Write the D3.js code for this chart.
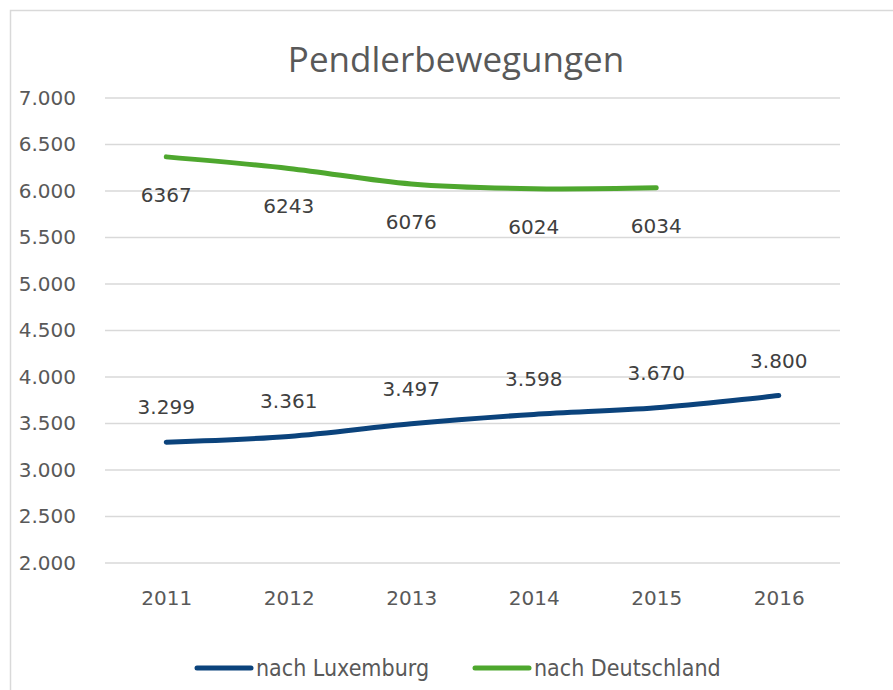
<!DOCTYPE html>
<html>
  <head>
    <meta charset="UTF-8">
    <title>Pendlerbewegungen</title>
    <style>
      body { margin: 0; background: #fff; }
      svg text { font-family: "DejaVu Sans", sans-serif; fill: #595959; }
      .axis path, .axis line { display: none; }
      .grid line { stroke: #d9d9d9; stroke-width: 1.5px; }
    </style>
    <script src="https://d3js.org/d3.v7.min.js"></script>
  </head>
  <body>
    <div class="graph1"></div>
    <script>
      var years = ["2011", "2012", "2013", "2014", "2015", "2016"];
      var luxemburg = [3299, 3361, 3497, 3598, 3670, 3800];
      var deutschland = [6367, 6243, 6076, 6024, 6034, null];
      var yTicks = [2000, 2500, 3000, 3500, 4000, 4500, 5000, 5500, 6000, 6500, 7000];
      var seriesNames = ["nach Luxemburg", "nach Deutschland"];
      var colors = ["#0b437c", "#4ea72e"];

      var width = 893, height = 690;
      var margin = {top: 98, right: 53, bottom: 127, left: 105};

      var svg = d3.select(".graph1").append("svg")
        .attr("width", width)
        .attr("height", height);

      // outer chart frame (runs past the window on right/bottom)
      svg.append("rect")
        .attr("x", 10.5).attr("y", 10.5)
        .attr("width", 900).attr("height", 700)
        .attr("fill", "none").attr("stroke", "#d9d9d9").attr("stroke-width", 1.5);

      var g = svg.append("g")
        .attr("transform", "translate(" + margin.left + "," + margin.top + ")");
      var w = width - margin.left - margin.right,
          h = height - margin.top - margin.bottom;

      var xScale = d3.scalePoint().domain(years).range([0, w]).padding(0.5);
      var yScale = d3.scaleLinear().domain([2000, 7000]).range([h, 0]);

      var fmt = d3.formatLocale({decimal: ",", thousands: ".", grouping: [3], currency: ["", "€"]}).format(",.0f");

      // gridlines
      g.append("g").attr("class", "grid")
        .selectAll("line").data(yTicks).enter().append("line")
          .attr("x1", 0).attr("x2", w)
          .attr("y1", function(d) { return yScale(d); })
          .attr("y2", function(d) { return yScale(d); });

      // y-axis
      g.append("g").attr("class", "axis")
        .call(d3.axisLeft(yScale).tickValues(yTicks).tickFormat(fmt).tickSize(0).tickPadding(29))
        .selectAll("text").style("font-size", "20px").style("fill", "#595959");

      // x-axis
      g.append("g").attr("class", "axis")
        .attr("transform", "translate(0," + h + ")")
        .call(d3.axisBottom(xScale).tickSize(0).tickPadding(28))
        .selectAll("text").style("font-size", "20px").style("fill", "#595959");

      var line = d3.line()
        .defined(function(d) { return d.v != null; })
        .x(function(d) { return xScale(d.year); })
        .y(function(d) { return yScale(d.v); })
        .curve(d3.curveCatmullRom.alpha(0.5));

      var series = [luxemburg, deutschland].map(function(vals) {
        return vals.map(function(v, i) { return {year: years[i], v: v}; });
      });

      series.forEach(function(s, i) {
        g.append("path").datum(s)
          .attr("fill", "none")
          .attr("stroke", colors[i])
          .attr("stroke-width", 5)
          .attr("stroke-linecap", "round")
          .attr("d", line);
      });

      // data labels: Luxemburg above, Deutschland below
      g.selectAll(".lbl-lux").data(series[0]).enter().append("text")
        .attr("x", function(d) { return xScale(d.year); })
        .attr("y", function(d) { return yScale(d.v) - 28; })
        .attr("text-anchor", "middle")
        .style("font-size", "20px").style("fill", "#404040")
        .text(function(d) { return fmt(d.v); });

      g.selectAll(".lbl-de").data(series[1].filter(function(d) { return d.v != null; })).enter().append("text")
        .attr("x", function(d) { return xScale(d.year); })
        .attr("y", function(d) { return yScale(d.v) + 45; })
        .attr("text-anchor", "middle")
        .style("font-size", "20px").style("fill", "#404040")
        .text(function(d) { return d.v; });

      // title
      svg.append("text")
        .attr("x", 456).attr("y", 72)
        .attr("text-anchor", "middle")
        .style("font-family", "'Open Sans', sans-serif")
        .style("font-size", "35px")
        .text("Pendlerbewegungen");

      // legend
      var legX = [195, 473];
      seriesNames.forEach(function(name, i) {
        var lg = svg.append("g").attr("transform", "translate(" + legX[i] + ",668)");
        lg.append("line").attr("x1", 2).attr("x2", 56)
          .attr("stroke", colors[i]).attr("stroke-width", 5).attr("stroke-linecap", "round");
        lg.append("text").attr("x", 61).attr("y", 8)
          .style("font-size", "23px")
          .style("font-family", "'DejaVu Sans Condensed', 'Open Sans', sans-serif")
          .text(name);
      });
    </script>
  </body>
</html>
